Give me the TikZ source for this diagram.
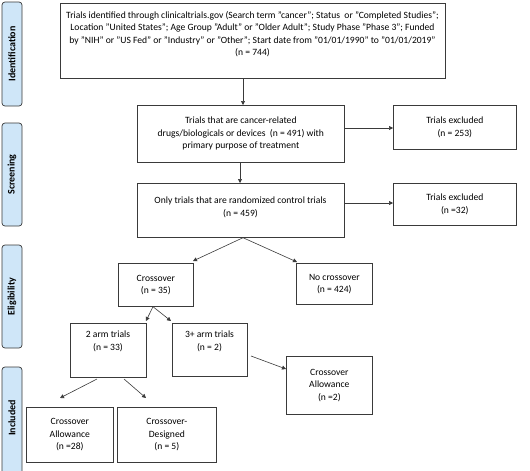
\documentclass[tikz,border=0pt]{standalone}
\usepackage{fontspec}
\setmainfont{Carlito}
\usetikzlibrary{arrows.meta}
\definecolor{sidefill}{HTML}{CFE6F8}
\definecolor{edge}{HTML}{3A3A3A}
\tikzset{
  txt/.style={align=center, font=\fontsize{9.6}{12.5}\selectfont, inner sep=0pt},
  box/.style={draw=edge, line width=0.7pt, fill=white, txt},
  side/.style={draw=edge, line width=0.7pt, fill=sidefill, rounded corners=3pt},
  sidetext/.style={rotate=90, font=\fontsize{10}{11}\selectfont\bfseries},
  arr/.style={draw=edge, line width=0.6pt, -{Triangle[length=4pt,width=4pt]}},
}
\begin{document}
\begin{tikzpicture}[x=1pt,y=-1pt]
\useasboundingbox (0,0) rectangle (530,471);
% side labels
\draw[side] (2,2) rectangle (22,106);
\node[sidetext] (lid) at (12,54) {Identification};
\draw[side] (2,123) rectangle (22,226);
\node[sidetext] (lsc) at (12,174.5) {Screening};
\draw[side] (2,245) rectangle (22,348);
\node[sidetext] (lel) at (12,296.5) {Eligibility};
\draw[side] (2,367) rectangle (22,480);
\node[sidetext] (lin) at (12,418) {Included};
% boxes
\node[box, minimum width=385pt, minimum height=75pt, anchor=north west] (b1) at (60,3) {};
\node[txt, anchor=north] (t1) at (252.5,11) {Trials identified through clinicaltrials.gov (Search term "cancer"; Status~ or "Completed Studies";\\ Location "United States"; Age Group "Adult" or "Older Adult"; Study Phase "Phase 3"; Funded\\ by "NIH" or "US Fed" or "Industry" or "Other"; Start date from "01/01/1990" to "01/01/2019"\\ (n = 744)};
\node[box, minimum width=207pt, minimum height=57pt, anchor=north west] (b2) at (137,105) {Trials that are cancer-related\\ drugs/biologicals or devices~ (n = 491) with\\ primary purpose of treatment};
\node[box, minimum width=123pt, minimum height=44pt, anchor=north west] (e1) at (393,105) {Trials excluded\\ (n = 253)};
\node[box, minimum width=207pt, minimum height=54pt, anchor=north west] (b3) at (137,183) {};
\node[txt, anchor=north] (t3) at (240.5,197) {Only trials that are randomized control trials\\ (n = 459)};
\node[box, minimum width=123pt, minimum height=42pt, anchor=north west] (e2) at (393,183) {Trials excluded\\ (n =32)};
\node[box, minimum width=75pt, minimum height=43pt, anchor=north west] (c) at (118,263) {Crossover\\ (n = 35)};
\node[box, minimum width=76pt, minimum height=41pt, anchor=north west] (nc) at (296,263) {No crossover\\ (n = 424)};
\node[box, minimum width=76pt, minimum height=54pt, anchor=north west] (a2) at (70,323) {};
\node[txt, anchor=north] (ta2) at (108,331) {2 arm trials\\ (n = 33)};
\node[box, minimum width=75pt, minimum height=53pt, anchor=north west] (a3) at (172,323) {};
\node[txt, anchor=north] (ta3) at (209.5,331) {3+ arm trials\\ (n = 2)};
\node[box, minimum width=86pt, minimum height=58pt, anchor=north west] (ca2) at (286,356) {Crossover\\ Allowance\\ (n =2)};
\node[box, minimum width=87pt, minimum height=55pt, anchor=north west] (ca28) at (26,407) {Crossover\\ Allowance\\ (n =28)};
\node[box, minimum width=99pt, minimum height=55pt, anchor=north west] (cd) at (117,407) {Crossover-\\ Designed\\ (n = 5)};
% connectors
\draw[arr] (b1.south -| 243,0) -- (b2.north -| 243,0);
\draw[arr] (b2.east |- 0,128) -- (e1.west |- 0,128);
\draw[arr] (b2.south -| 240,0) -- (b3.north -| 240,0);
\draw[arr] (b3.east |- 0,203) -- (e2.west |- 0,203);
\coordinate (p3) at (b3.south -| 243,0);
\draw[arr] (p3) -- (193,261);
\draw[arr] (p3) -- (297,262);
\coordinate (pc) at (c.south -| 153,0);
\draw[arr] (pc) -- (146,321);
\draw[arr] (pc) -- (171,321);
\coordinate (s3) at (251,356);
\draw[arr] (s3) -- (ca2.west |- 0,369);
\coordinate (s2a) at (97,379);
\coordinate (s2b) at (124,379);
\draw[arr] (s2a) -- (60,398);
\draw[arr] (s2b) -- (146,398);
\end{tikzpicture}
\end{document}
